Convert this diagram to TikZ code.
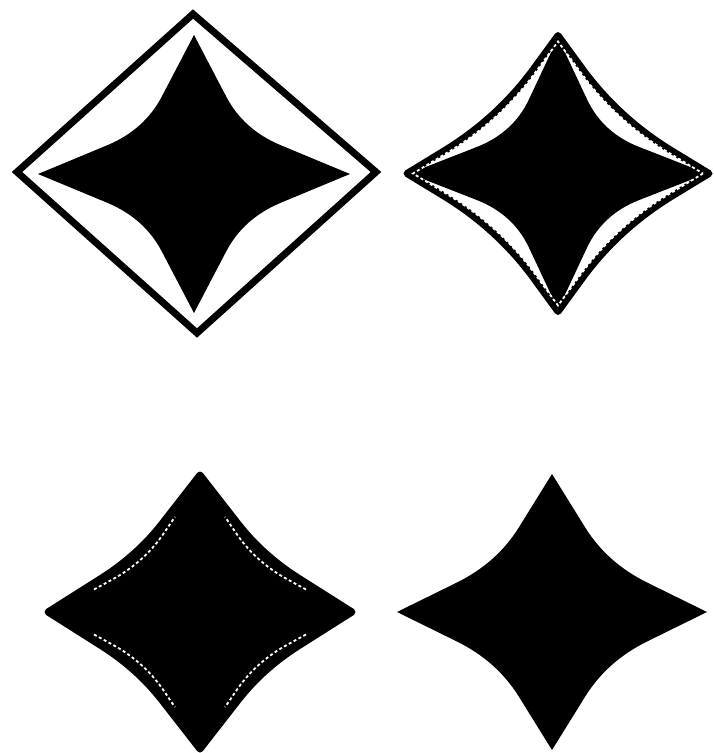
\documentclass[tikz,border=0pt]{standalone}
\newcommand\qsSet[2]{\pgfmathsetmacro\qsK{#1}\pgfmathsetmacro\qsA{#1+#2-#2*#1}\pgfmathsetmacro\qsB{#1*(1-#2)}%
\pgfmathsetmacro\qsE{\qsA+2/3*(\qsK-\qsA)}\pgfmathsetmacro\qsF{\qsB+2/3*(\qsK-\qsB)}}
\newcommand\qsPath[1]{\path[#1] (1,0) -- (\qsA,\qsB) .. controls (\qsE,\qsF) and (\qsF,\qsE) .. (\qsB,\qsA) -- (0,1) -- (-\qsB,\qsA) .. controls (-\qsF,\qsE) and (-\qsE,\qsF) .. (-\qsA,\qsB) -- (-1,0) -- (-\qsA,-\qsB) .. controls (-\qsE,-\qsF) and (-\qsF,-\qsE) .. (-\qsB,-\qsA) -- (0,-1) -- (\qsB,-\qsA) .. controls (\qsF,-\qsE) and (\qsE,-\qsF) .. (\qsA,-\qsB) -- cycle;}
\newcommand\qsCorners[2]{\pgfmathsetmacro\qsC{\qsK+#2*(1-\qsK)}\pgfmathsetmacro\qsD{\qsK*(1-#2)}%
\path[#1] (\qsC,\qsD) -- (\qsA,\qsB) .. controls (\qsE,\qsF) and (\qsF,\qsE) .. (\qsB,\qsA) -- (\qsD,\qsC);
\path[#1] (-\qsC,\qsD) -- (-\qsA,\qsB) .. controls (-\qsE,\qsF) and (-\qsF,\qsE) .. (-\qsB,\qsA) -- (-\qsD,\qsC);
\path[#1] (-\qsC,-\qsD) -- (-\qsA,-\qsB) .. controls (-\qsE,-\qsF) and (-\qsF,-\qsE) .. (-\qsB,-\qsA) -- (-\qsD,-\qsC);
\path[#1] (\qsC,-\qsD) -- (\qsA,-\qsB) .. controls (\qsE,-\qsF) and (\qsF,-\qsE) .. (\qsB,-\qsA) -- (\qsD,-\qsC);}
\tikzset{
  solidstar/.style={fill=black},
  band/.style={draw=black, line width=7pt, line join=round},
  whitedots/.style={draw=white, line width=1.8pt, dash pattern=on 3pt off 2.5pt}
}
\begin{document}
\begin{tikzpicture}[x=1pt, y=-1pt]
\useasboundingbox[fill=white] (0,0) rectangle (714,753);
% panel 1: diamond with star
\coordinate (dt) at (193,14);
\coordinate (dr) at (376,172);
\coordinate (db) at (197,333);
\coordinate (dl) at (17,172);
\draw[band, line join=miter] (dt) -- (dr) -- (db) -- (dl) -- cycle;
\begin{scope}[shift={(194,174)}, xscale=156, yscale=139]
  \qsSet{0.318}{0.35}\qsPath{solidstar}
\end{scope}
% panel 2: star with curved outline
\begin{scope}[shift={(558,173.5)}, xscale=149, yscale=136]
  \qsSet{0.30}{0.35}\qsPath{solidstar}
\end{scope}
\begin{scope}[shift={(558,173.5)}, xscale=151, yscale=138]
  \qsSet{0.40}{0.6}\qsPath{band}
\end{scope}
\begin{scope}[shift={(558,173.5)}, xscale=145, yscale=132]
  \qsSet{0.40}{0.6}\qsPath{whitedots}
\end{scope}
% panel 3: star with inner dotted line
\begin{scope}[shift={(200,612)}, xscale=152, yscale=137]
  \qsSet{0.4125}{0.4}\qsPath{solidstar, band}
\end{scope}
\begin{scope}[shift={(200,612)}, xscale=147, yscale=132]
  \qsSet{0.379}{0.35}\qsCorners{whitedots}{0.55}
\end{scope}
% panel 4: plain star
\begin{scope}[shift={(552,612)}, xscale=155, yscale=138]
  \qsSet{0.356}{0.4}\qsPath{solidstar}
\end{scope}
\end{tikzpicture}
\end{document}
